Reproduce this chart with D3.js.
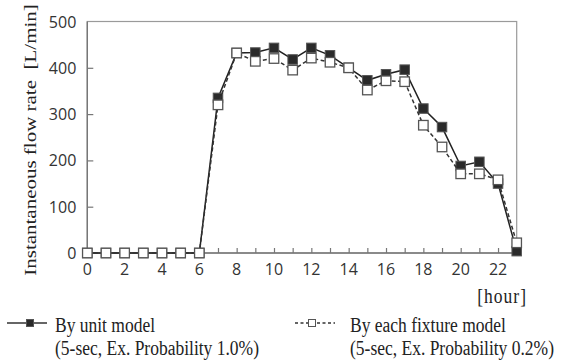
<!DOCTYPE html>
<html>
<head>
<meta charset="utf-8">
<script src="https://cdn.jsdelivr.net/npm/d3@7"></script>
<style>
  html, body { margin: 0; padding: 0; background: #fff; }
  svg { display: block; }
</style>
</head>
<body>
<script>
// Hourly instantaneous flow rate, two calculation methods
const hours = d3.range(0, 24);
const unitModel    = [0, 0, 0, 0, 0, 0, 0, 335, 432, 433, 443, 418, 443, 427, 400, 373, 386, 396, 312, 272, 188, 197, 150, 4];
const fixtureModel = [0, 0, 0, 0, 0, 0, 0, 320, 432, 414, 420, 395, 421, 412, 400, 352, 372, 370, 276, 229, 171, 171, 158, 22];
const yTicks = [0, 100, 200, 300, 400, 500];
const xTickLabels = d3.range(0, 24, 2);
const seriesNames = ["By unit model", "By each fixture model"];
const seriesNotes = ["(5-sec, Ex. Probability 1.0%)", "(5-sec, Ex. Probability 0.2%)"];

const W = 568, H = 362;
const svg = d3.select("body").append("svg").attr("width", W).attr("height", H);

const x = d3.scaleLinear().domain([0, 23]).range([87.3, 516.7]);
const y = d3.scaleLinear().domain([0, 500]).range([253, 21.5]);

const serif = "'Liberation Serif', 'Times New Roman', serif";
const sans = "'Open Sans', 'Noto Sans', sans-serif";
const stretch = 1.17;

// frame
const g = svg.append("g");
g.append("rect")
  .attr("x", x(0)).attr("y", y(500))
  .attr("width", x(23) - x(0)).attr("height", y(0) - y(500))
  .attr("fill", "none").attr("stroke", "#9a9a9a").attr("stroke-width", 1.2);

// y axis: inward ticks
const yAxis = g.append("g").attr("transform", `translate(${x(0)},0)`)
  .call(d3.axisRight(y).tickValues(yTicks.slice(1, -1)).tickSize(6).tickFormat(""));
yAxis.select(".domain").remove();
yAxis.selectAll("line").attr("stroke", "#777").attr("stroke-width", 1.2);

g.append("line")
  .attr("x1", x(0)).attr("x2", x(0)).attr("y1", y(500)).attr("y2", y(0))
  .attr("stroke", "#777").attr("stroke-width", 1.4);

// y tick labels
g.selectAll("text.ytick").data(yTicks).join("text")
  .attr("class", "ytick")
  .attr("x", x(0) - 11).attr("y", d => y(d) + 6)
  .attr("text-anchor", "end")
  .attr("font-family", sans).attr("font-size", 16).attr("fill", "#333")
  .text(d => d);

// x axis: inward ticks every hour
const xAxis = g.append("g").attr("transform", `translate(0,${y(0)})`)
  .call(d3.axisTop(x).tickValues(hours).tickSize(5).tickFormat(""));
xAxis.select(".domain").remove();
xAxis.selectAll("line").attr("stroke", "#777").attr("stroke-width", 1.2);

g.append("line")
  .attr("x1", x(0)).attr("x2", x(23)).attr("y1", y(0)).attr("y2", y(0))
  .attr("stroke", "#777").attr("stroke-width", 1.4);

g.selectAll("text.xtick").data(xTickLabels).join("text")
  .attr("class", "xtick")
  .attr("x", d => x(d)).attr("y", 275)
  .attr("text-anchor", "middle")
  .attr("font-family", sans).attr("font-size", 16).attr("fill", "#333")
  .text(d => d);

// axis titles
svg.append("text")
  .attr("transform", `translate(36,140) scale(1,1.2) rotate(-90)`)
  .attr("text-anchor", "middle")
  .attr("font-family", serif).attr("font-size", 17.5).attr("fill", "#222")
  .text("Instantaneous flow rate\u00a0\u00a0[L/min]");

svg.append("text")
  .attr("transform", `translate(527,303) scale(1,${stretch})`)
  .attr("text-anchor", "end")
  .attr("font-family", serif).attr("font-size", 17.5).attr("fill", "#222")
  .attr("letter-spacing", 1)
  .text("[hour]");

// series
const line = d3.line().x((d, i) => x(hours[i])).y(d => y(d));
const ms = 9.5;

svg.append("path").datum(unitModel)
  .attr("d", line).attr("fill", "none")
  .attr("stroke", "#222").attr("stroke-width", 1.5);
svg.selectAll("rect.unit").data(unitModel).join("rect")
  .attr("class", "unit")
  .attr("x", (d, i) => x(hours[i]) - ms / 2).attr("y", d => y(d) - ms / 2)
  .attr("width", ms).attr("height", ms)
  .attr("fill", "#2a2a2a").attr("stroke", "#555").attr("stroke-width", 1);

svg.append("path").datum(fixtureModel)
  .attr("d", line).attr("fill", "none")
  .attr("stroke", "#333").attr("stroke-width", 1.5).attr("stroke-dasharray", "4,2.5");
svg.selectAll("rect.fixture").data(fixtureModel).join("rect")
  .attr("class", "fixture")
  .attr("x", (d, i) => x(hours[i]) - ms / 2).attr("y", d => y(d) - ms / 2)
  .attr("width", ms).attr("height", ms)
  .attr("fill", "#fff").attr("stroke", "#555").attr("stroke-width", 1.3);

// legend
const legend = [
  { x0: 7, x1: 47, mx: 30, tx: 55, dash: null, fill: "#2a2a2a" },
  { x0: 295, x1: 335, mx: 312, tx: 350, dash: "3,2.5", fill: "#fff" }
];
legend.forEach((L, i) => {
  const lg = svg.append("g");
  lg.append("line")
    .attr("x1", L.x0).attr("x2", L.x1).attr("y1", 323).attr("y2", 323)
    .attr("stroke", "#333").attr("stroke-width", 1.5)
    .attr("stroke-dasharray", L.dash);
  lg.append("rect")
    .attr("x", L.mx - 3.5).attr("y", 323 - 3.5).attr("width", 7).attr("height", 7)
    .attr("fill", L.fill).attr("stroke", "#555").attr("stroke-width", 1);
  lg.append("text")
    .attr("transform", `translate(${L.tx},332) scale(1,${stretch})`)
    .attr("font-family", serif).attr("font-size", 17.5).attr("fill", "#222")
    .text(seriesNames[i]);
  lg.append("text")
    .attr("transform", `translate(${L.tx},355) scale(1,${stretch})`)
    .attr("font-family", serif).attr("font-size", 17.5).attr("fill", "#222")
    .text(seriesNotes[i]);
});
</script>
</body>
</html>
